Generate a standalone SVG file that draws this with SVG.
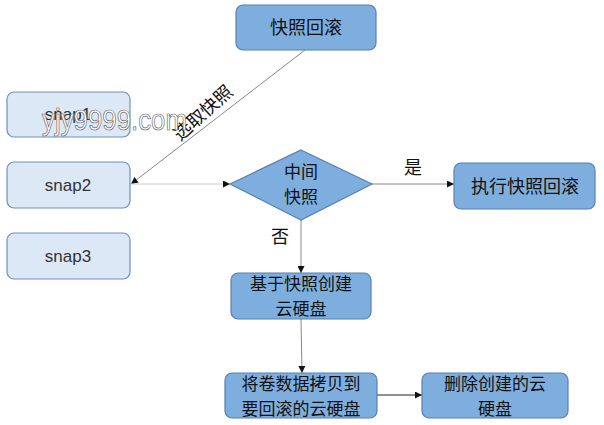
<svg xmlns="http://www.w3.org/2000/svg" width="604" height="425" viewBox="0 0 604 425">
<defs>
<marker id="arr" viewBox="0 0 10 10" refX="10" refY="5" markerWidth="7" markerHeight="7" orient="auto" markerUnits="userSpaceOnUse">
<path d="M0,0 L10,5 L0,10 z" fill="#111"/>
</marker>
<style>
.main{fill:#7eaedd;stroke:#5580b2;stroke-width:1.2}
.snap{fill:#dce8f6;stroke:#6a92c0;stroke-width:1.2}
.t{font-family:"Noto Sans CJK SC","Liberation Sans",sans-serif;font-size:18px;fill:#111;text-anchor:middle}
.t2{font-family:"Noto Sans CJK SC","Liberation Sans",sans-serif;font-size:17px;fill:#111;text-anchor:middle}
.s{font-family:"Liberation Sans","Noto Sans",sans-serif;font-size:17px;fill:#333;text-anchor:middle}
.ln{stroke:#888;stroke-width:1;fill:none}
</style>
</defs>
<rect width="604" height="425" fill="#fff"/>
<g id="connectors">
<line class="ln" x1="305" y1="50" x2="131" y2="184" marker-end="url(#arr)"/>
<line x1="131" y1="184" x2="230" y2="184" stroke="#ccc" stroke-width="1" marker-end="url(#arr)"/>
<line class="ln" x1="372" y1="184" x2="454" y2="184" marker-end="url(#arr)"/>
<line class="ln" x1="301" y1="220" x2="301" y2="273" marker-end="url(#arr)"/>
<line class="ln" x1="301" y1="319" x2="302" y2="373" marker-end="url(#arr)"/>
<line x1="377" y1="395" x2="422" y2="395" stroke="#222" stroke-width="1" marker-end="url(#arr)"/>
<text class="t" x="413" y="174">是</text>
<text class="t" x="280" y="243">否</text>
<text class="t" transform="translate(203,113) rotate(-42)" y="6">选取快照</text>
</g>
<g id="n-rollback"><rect class="main" x="236" y="5" width="140" height="45" rx="7"/><text class="t" x="306" y="34">快照回滚</text></g>
<g id="n-snap1"><rect class="snap" x="7" y="92" width="123" height="45" rx="7"/><text class="s" x="68" y="120">snap1</text></g>
<g id="n-snap2"><rect class="snap" x="7" y="162" width="123" height="46" rx="7"/><text class="s" x="68" y="191">snap2</text></g>
<g id="n-snap3"><rect class="snap" x="7" y="233" width="123" height="46" rx="7"/><text class="s" x="68" y="262">snap3</text></g>
<g id="n-decision"><polygon class="main" points="301,150 372,184 301,220 230,184"/><text class="t2" x="301" y="178">中间</text><text class="t2" x="301" y="203">快照</text></g>
<g id="n-exec"><rect class="main" x="454" y="163" width="141" height="46" rx="7"/><text class="t" x="525" y="193">执行快照回滚</text></g>
<g id="n-create"><rect class="main" x="231" y="273" width="140" height="46" rx="7"/><text class="t2" x="301" y="290">基于快照创建</text><text class="t2" x="301" y="315">云硬盘</text></g>
<g id="n-copy"><rect class="main" x="225" y="373" width="152" height="45" rx="7"/><text class="t2" x="301" y="389.5">将卷数据拷贝到</text><text class="t2" x="301" y="414.5">要回滚的云硬盘</text></g>
<g id="n-delete"><rect class="main" x="422" y="373" width="146" height="45" rx="7"/><text class="t2" x="495" y="389.5">删除创建的云</text><text class="t2" x="495" y="414.5">硬盘</text></g>
<text x="42" y="130" font-family="Liberation Sans,sans-serif" font-size="29" textLength="145" lengthAdjust="spacingAndGlyphs" fill="#fff" stroke="#666" stroke-width="0.7">yjy9999.com</text>
</svg>
